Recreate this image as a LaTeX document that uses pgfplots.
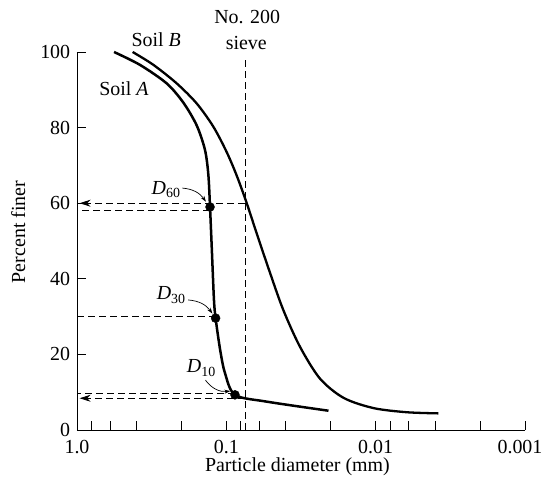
\documentclass[border=0pt]{standalone}
\usepackage{fontspec}
\setmainfont{Liberation Serif}
\usepackage{pgfplots}
\pgfplotsset{compat=1.18}
\usetikzlibrary{arrows.meta}

\begin{document}
\fontsize{20}{24}\selectfont
\begin{tikzpicture}
\useasboundingbox (-77bp,-60bp) rectangle (468bp,430bp);
\begin{axis}[
  at={(0,0)}, anchor=south west,
  scale only axis, width=448bp, height=378bp,
  xmode=log, x dir=reverse,
  xmin=0.001, xmax=1, ymin=0, ymax=100,
  axis lines*=left,
  axis line style={line width=0.9bp},
  xtick={1,0.1,0.01,0.001},
  xticklabels={1.0,0.1,0.01,0.001\kern10bp\relax},
  minor xtick={0.8,0.6,0.4,0.2,0.08,0.06,0.04,0.02,0.008,0.006,0.004,0.002},
  ytick={0,20,40,60,80,100},
  tick align=inside,
  major tick length=9bp, minor tick length=9bp,
  tick style={line width=0.9bp, black},
  /pgf/number format/assume math mode=true,
  xticklabel style={yshift=-3bp},
  xlabel={Particle diameter (mm)},
  ylabel={Percent finer},
  xlabel style={at={(axis description cs:0.492,-0.098)}, anchor=center},
  ylabel style={at={(axis description cs:-0.131,0.524)}, anchor=center},
  clip=false,
]
% Soil A
\addplot[smooth, line width=2.5bp] coordinates {
  (0.565,100) (0.379,96.6) (0.251,91.7) (0.194,86.6) (0.158,80.6)
  (0.139,74.1) (0.132,67.6) (0.1286,59.0) (0.125,47.6) (0.121,34.4)
  (0.118,29.6) (0.110,21.2) (0.102,15.0) (0.0875,9.3) (0.0536,7.5)
  (0.0207,5.1)};
% Soil B
\addplot[smooth, line width=2.3bp] coordinates {
  (0.424,100) (0.308,96.6) (0.215,91.7) (0.158,86.4) (0.122,80.2)
  (0.0994,73.5) (0.0852,67.3) (0.0730,60.0) (0.0626,52.0) (0.0509,41.5)
  (0.0415,31.7) (0.0321,22.0) (0.0236,13.6) (0.0164,8.5) (0.01035,5.8)
  (0.0062,4.7) (0.0038,4.4)};
% No. 200 sieve
\addplot[dash pattern=on 7bp off 4bp, line width=0.9bp] coordinates {(0.075,0) (0.075,98.5)};
% guide lines
\addplot[dash pattern=on 7bp off 4bp, line width=0.9bp, -{Stealth[length=11bp,width=7bp]}]
  coordinates {(0.075,60) (0.96,60)};
\addplot[dash pattern=on 7bp off 4bp, line width=0.9bp] coordinates {(0.1286,58) (1,58)};
\addplot[dash pattern=on 7bp off 4bp, line width=0.9bp] coordinates {(0.118,30) (1,30)};
\addplot[dash pattern=on 7bp off 4bp, line width=0.9bp] coordinates {(0.0875,9.8) (1,9.8)};
\addplot[dash pattern=on 7bp off 4bp, line width=0.9bp, -{Stealth[length=11bp,width=7bp]}]
  coordinates {(0.075,8.4) (0.96,8.4)};
% D points
\addplot[only marks, mark=*, mark size=4.5bp] coordinates {(0.1286,59) (0.118,29.6) (0.0875,9.3)};

\node at (axis cs:0.295,103.2) {Soil \textit{B}};
\node at (axis cs:0.484,90.3) {Soil \textit{A}};
\node at (axis cs:0.0725,109.3) {No. 200};
\node at (axis cs:0.0735,102.4) {sieve};
\node at (axis cs:0.253,63.5) {\textit{D}\textsubscript{60}};
\node at (axis cs:0.234,35.7) {\textit{D}\textsubscript{30}};
\node at (axis cs:0.147,16.4) {\textit{D}\textsubscript{10}};
\draw[-{Stealth[length=6bp,width=4bp]}, line width=0.7bp]
  (axis cs:0.197,64) to[bend left=25] (axis cs:0.137,60.4);
\draw[-{Stealth[length=6bp,width=4bp]}, line width=0.7bp]
  (axis cs:0.18,34.4) to[bend left=25] (axis cs:0.124,30.8);
\draw[-{Stealth[length=6bp,width=4bp]}, line width=0.7bp]
  (axis cs:0.138,13.2) to[bend right=30] (axis cs:0.094,10.3);
\end{axis}
\end{tikzpicture}
\end{document}
